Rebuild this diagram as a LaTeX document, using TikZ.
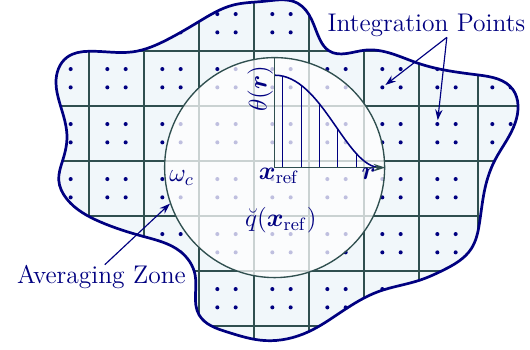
\RequirePackage{fix-cm}
\documentclass[tikz,border=0pt]{standalone}
\usepackage{amsmath}
\usepackage{xcolor}
\usetikzlibrary{arrows.meta,hobby}
\definecolor{navyblue}{RGB}{0,0,128}
\definecolor{slategrid}{RGB}{47,79,79}
\definecolor{domainfill}{RGB}{241,247,250}

\begin{document}
\begin{tikzpicture}[
font=\fontsize{13.2}{16}\selectfont,
gridline/.style={slategrid, line width=0.85pt},
gausspt/.style={navyblue},
txt/.style={text=navyblue, inner sep=0pt},
pointer/.style={navyblue, line width=0.6pt, -{Stealth[length=5.5pt,width=3.8pt]}},
]
\newcommand{\domainpath}{(0.40,4.41) .. (0.60,4.88) .. (1.0,4.99) .. (1.8,4.98) .. (2.42,5.2) .. (3.0,5.53) .. (3.62,5.83) .. (4.2,5.9) .. (4.8,5.86) .. (5.05,5.56) .. (5.2,5.2) .. (5.36,5.0) .. (6.02,5.01) .. (6.99,4.77) .. (8.07,4.56) .. (8.71,4.29) .. (8.8,4.01) .. (8.6,3.38) .. (8.38,3.01) .. (8.2,2.5) .. (8.1,1.87) .. (7.95,1.4) .. (7.44,1.01) .. (7.02,0.83) .. (6.26,0.62) .. (5.6,0.26) .. (4.99,-0.11) .. (4.2,-0.27) .. (3.5,-0.11) .. (3.0,0.2) .. (2.93,0.92) .. (2.66,1.35) .. (2.0,1.62) .. (1.2,1.89) .. (0.6,2.3) .. (0.45,2.65) .. (0.52,3.0) .. (0.6,3.4) .. (0.47,4.04)}
\useasboundingbox (-0.618,-0.424) rectangle (9.018,5.922);
\begin{scope}
\clip[use Hobby shortcut, closed] \domainpath;
\fill[domainfill] (-1,-1) rectangle (10,7);
\foreach \x in {0,1,2,3,4,5,6,7,8.07} \draw[gridline] (\x,-1) -- (\x,7);
\foreach \y in {0,...,6} \draw[gridline] (-1,\y) -- (10,\y);
\foreach \i in {-1,...,8} \foreach \j in {-1,...,6} \foreach \a in {1,2} \foreach \b in {1,2}
  \fill[gausspt] ({\i+\a/3},{\j+\b/3}) circle (1.05pt);
\end{scope}
\draw[use Hobby shortcut, closed, navyblue, line width=1.4pt] \domainpath;

\node[circle, draw=slategrid, line width=0.7pt, fill=white, fill opacity=0.75, minimum size=4cm, inner sep=0pt] (zone) at (4.375,2.875) {};
\begin{scope}[shift={(zone.center)}]
\begin{scope}
\clip (0,0) -- (0,1.68) .. controls (0.865,1.68) and (1.295,0) .. (1.92,0) -- cycle;
\foreach \k in {0,...,4} \draw[navyblue, line width=0.6pt] ({0.15+\k/3},0) -- ++(0,2);
\end{scope}
\draw[navyblue, line width=0.8pt] (0,1.68) .. controls (0.865,1.68) and (1.295,0) .. (1.92,0);
\end{scope}
\draw[slategrid, line width=0.8pt] (zone.center) -- (zone.north);
\draw[slategrid, line width=0.8pt, -{Stealth[length=6pt,width=3.8pt]}] (zone.center) -- (zone.east);

\node[txt, rotate=90] (thlab) at (4.115,4.316) {$\theta(\boldsymbol{r})$};
\node[txt, anchor=base] (xref) at (4.455,2.651) {$\boldsymbol{x}_{\mathrm{ref}}$};
\node[txt, anchor=base] (rlab) at (6.085,2.651) {$\boldsymbol{r}$};
\node[txt, anchor=base] (omega) at (2.685,2.618) {$\omega_c$};
\node[txt, anchor=base] (qavg) at (4.488,1.8) {$\breve{q}(\boldsymbol{x}_{\mathrm{ref}})$};
\node[txt, anchor=base] (ip) at (7.136,5.345) {Integration Points};
\node[txt, anchor=base] (az) at (1.227,0.771) {Averaging Zone};
\coordinate (ipA) at (6.333,4.333);
\coordinate (ipB) at (7.333,3.667);
\draw[pointer, shorten >=2pt] ([xshift=0.37cm]ip.south) -- (ipA);
\draw[pointer, shorten >=2pt] ([xshift=0.37cm]ip.south) -- (ipB);
\draw[pointer] ([xshift=0.06cm]az.north) -- (zone.199);
\end{tikzpicture}
\end{document}
